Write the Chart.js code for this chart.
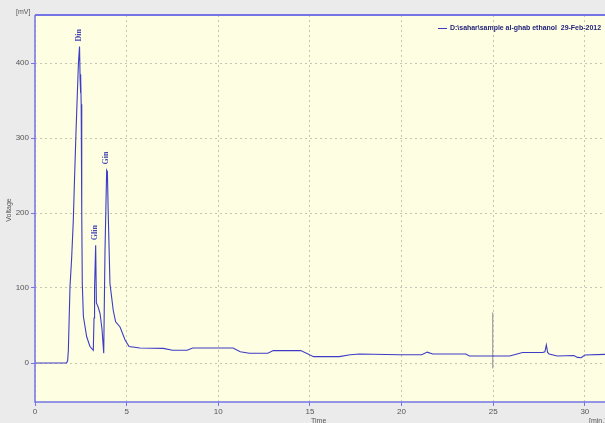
<!DOCTYPE html>
<html>
<head>
<meta charset="utf-8">
<script src="https://cdn.jsdelivr.net/npm/chart.js@4.4.0/dist/chart.umd.min.js"></script>
<style>
html,body{margin:0;padding:0;background:#ebebeb;}
canvas{display:block;}
</style>
</head>
<body>
<canvas id="c" width="605" height="423"></canvas>
<script>
// ---- data ----
const times = [0, 1.72, 1.78, 1.82, 1.91, 2.0, 2.09, 2.15, 2.24, 2.37, 2.43, 2.46, 2.48, 2.5, 2.52, 2.55, 2.58, 2.64, 2.82, 3.0, 3.18, 3.22, 3.25, 3.31, 3.35, 3.44, 3.55, 3.66, 3.75, 3.78, 3.82, 3.91, 3.95, 4.0, 4.09, 4.27, 4.4, 4.64, 4.91, 5.13, 5.73, 7.0, 7.5, 8.3, 8.6, 10.8, 11.2, 11.7, 12.7, 13.0, 14.5, 15.2, 16.6, 17.2, 17.7, 19.9, 21.1, 21.4, 21.7, 23.5, 23.7, 25.9, 26.0, 26.6, 27.7, 27.82, 27.9, 27.97, 28.05, 28.5, 29.4, 29.6, 29.8, 30.0, 31.1];
const voltages = [0, 0, 3, 17, 102, 140, 190, 240, 310, 400, 422, 380, 360, 385, 345, 200, 106, 62, 35, 22, 17, 60, 100, 157, 80, 75, 66, 44, 13, 75, 150, 257, 255, 195, 106, 70, 55, 48, 31, 22, 20, 19.5, 17, 17, 20, 20, 15, 13, 13, 16.5, 16.5, 8.5, 8.5, 11, 12, 11, 11, 14.5, 12, 12, 9.3, 9.3, 10, 14, 14, 15, 24, 14, 12, 9.3, 10, 7.5, 7, 10.7, 11.5];
const markerTimes = [24.97, 24.97];
const markerVoltages = [67, -7];
const peakNames = ["Din", "Glin", "Gin"];
const peakTimes = [2.43, 3.31, 3.93];
const peakValues = [422, 157, 258];
const xTicks = [0, 5, 10, 15, 20, 25, 30];
const yTicks = [0, 100, 200, 300, 400];
const legendLabel = "D:\\sahar\\sample al-ghab ethanol  29-Feb-2012";

const traceData = times.map((t, i) => ({x: t, y: voltages[i]}));
const markerData = markerTimes.map((t, i) => ({x: t, y: markerVoltages[i]}));

const AXIS = '#7474e6';

const decor = {
  id: 'decor',
  beforeDraw(chart) {
    const {ctx, chartArea: a} = chart;
    ctx.save();
    ctx.fillStyle = '#fefee2';
    ctx.fillRect(a.left, a.top, a.right - a.left, a.bottom - a.top);
    ctx.restore();
  },
  afterDraw(chart) {
    const {ctx, chartArea: a, scales} = chart;
    ctx.save();
    // frame: top, left, bottom (solid)
    ctx.strokeStyle = AXIS;
    ctx.setLineDash([]);
    ctx.lineWidth = 2;
    ctx.beginPath();
    ctx.moveTo(a.left, a.top);
    ctx.lineTo(a.right, a.top);
    ctx.stroke();
    ctx.lineWidth = 1.5;
    ctx.beginPath();
    ctx.moveTo(a.left, a.top);
    ctx.lineTo(a.left, a.bottom);
    ctx.lineTo(a.right, a.bottom);
    ctx.stroke();
    // axis texts
    ctx.fillStyle = '#555';
    ctx.font = '7px "Liberation Sans", Arial, sans-serif';
    ctx.textAlign = 'left';
    ctx.textBaseline = 'middle';
    ctx.fillText('[mV]', 16, 12);
    ctx.fillText('Time', 311, 421);
    ctx.fillText('[min.]', 589, 421);
    ctx.save();
    ctx.translate(9, 210);
    ctx.rotate(-Math.PI / 2);
    ctx.textAlign = 'center';
    ctx.fillText('Voltage', 0, 0);
    ctx.restore();
    // legend
    ctx.strokeStyle = '#3a3ac4';
    ctx.lineWidth = 1;
    ctx.beginPath();
    ctx.moveTo(438, 28.5);
    ctx.lineTo(447, 28.5);
    ctx.stroke();
    ctx.fillStyle = '#22227a';
    ctx.font = 'bold 7px "Liberation Sans", Arial, sans-serif';
    ctx.textAlign = 'left';
    ctx.fillText(legendLabel, 450, 28.5, 151);
    // peak labels
    ctx.fillStyle = '#4646b4';
    ctx.font = 'bold 8px "Liberation Serif", "Times New Roman", serif';
    peakNames.forEach((n, i) => {
      const px = scales.x.getPixelForValue(peakTimes[i]);
      const py = scales.y.getPixelForValue(peakValues[i]) - 5;
      ctx.save();
      ctx.translate(px - 1, py);
      ctx.rotate(-Math.PI / 2);
      ctx.textAlign = 'left';
      ctx.textBaseline = 'middle';
      ctx.fillText(n, 0, 0);
      ctx.restore();
    });
    ctx.restore();
  }
};

new Chart(document.getElementById('c'), {
  type: 'line',
  data: {
    datasets: [
      {data: traceData, borderColor: '#3c3cc6', borderWidth: 1.1, pointRadius: 0, tension: 0, fill: false},
      {data: markerData, borderColor: '#a8a8a8', borderWidth: 1, pointRadius: 0, tension: 0, fill: false}
    ]
  },
  options: {
    responsive: false,
    animation: false,
    events: [],
    layout: {padding: {top: 15, right: 0, left: 0, bottom: 0}},
    plugins: {legend: {display: false}, tooltip: {enabled: false}},
    scales: {
      x: {
        type: 'linear', min: 0, max: 31.1,
        afterBuildTicks: s => { s.ticks = xTicks.map(v => ({value: v})); },
        afterFit: s => { s.height = 21; },
        ticks: {color: '#555', font: {size: 8, family: '"Liberation Sans", Arial, sans-serif'}, padding: 1, autoSkip: false, maxRotation: 0,
                callback: v => String(v)},
        grid: {color: '#c6c6b6', tickLength: 4, tickColor: AXIS, tickBorderDash: [], drawOnChartArea: true},
        border: {display: false, color: AXIS, width: 1.5, dash: [2, 3]}
      },
      y: {
        type: 'linear', min: -52, max: 464,
        afterBuildTicks: s => { s.ticks = yTicks.map(v => ({value: v})); },
        afterFit: s => { s.width = 35; },
        ticks: {color: '#555', font: {size: 8, family: '"Liberation Sans", Arial, sans-serif'}, padding: 2, autoSkip: false,
                callback: v => String(v)},
        grid: {color: '#c6c6b6', tickLength: 4, tickColor: AXIS, tickBorderDash: []},
        border: {display: false, color: AXIS, width: 1.5, dash: [2, 3]}
      }
    }
  },
  plugins: [decor]
});
</script>
</body>
</html>
